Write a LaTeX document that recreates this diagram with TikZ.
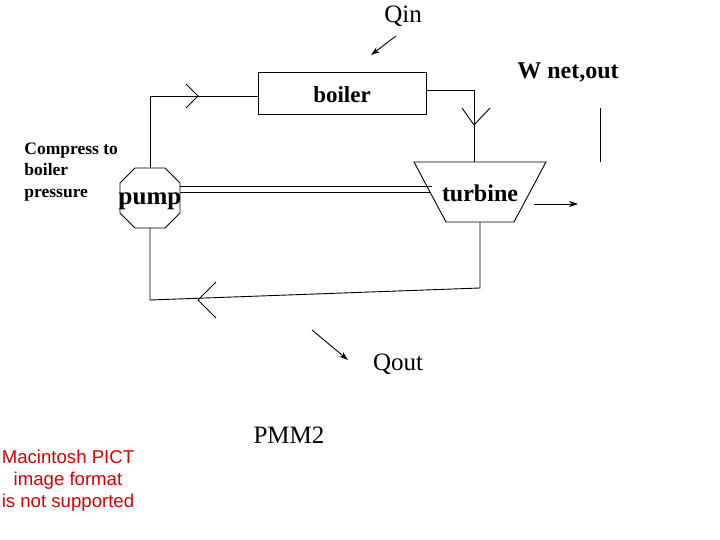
\documentclass[tikz,border=0pt]{standalone}
\usepackage{fontspec}
\setmainfont{Liberation Serif}
\newfontfamily\sans{Liberation Sans}
\usetikzlibrary{arrows.meta}
\begin{document}
\begin{tikzpicture}[x=1pt,y=-1pt,line width=0.9pt,
  lbl/.style={inner sep=0pt,font=\fontsize{25}{28}\selectfont},
  blbl/.style={inner sep=0pt,font=\fontsize{#1}{28}\selectfont\bfseries},
  arr/.style={-{Stealth[length=9pt,width=6pt]}}]
\useasboundingbox (0,0) rectangle (720,540);
\node[draw,minimum width=168pt,minimum height=42pt,inner sep=0pt] (boiler) at (342,93) {};
\node[blbl=23] (bl) at (342,95) {boiler};
\draw (135,168) -- (165,168) -- (180,183) -- (180,213) -- (165,228) -- (135,228) -- (120,213) -- (120,183) -- cycle;
\node[blbl=25] (pl) at (150,201) {pump};
\draw (414,162) -- (546,162) -- (514,222) -- (446,222) -- cycle;
\node[blbl=24] (tl) at (480,193) {turbine};
\coordinate (ptop) at (150,168);
\coordinate (pbot) at (150,228);
\coordinate (tt) at (474,162);
\coordinate (tb) at (480,222);
\draw (ptop) -- (150,96) -- (boiler.west |- 0,96);
\draw (186,84) -- (198,96) -- (186,108);
\draw (boiler.east |- 0,90) -- (474,90) -- (tt);
\draw (462,108) -- (474,125) -- (490,108);
\draw (tb) -- (480,288) -- (150,300) -- (pbot);
\draw (216,282) -- (198,300) -- (216,318);
\draw (180,186) -- (432,186) (180,192) -- (430,192);
\draw (600,108) -- (600,162);
\coordinate (wa) at (534,204); \coordinate (wb) at (578,204);
\draw[arr] (wa) -- (wb);
\coordinate (qa) at (396,36); \coordinate (qb) at (371,55);
\draw[arr] (qa) -- (qb);
\coordinate (oa) at (312,330); \coordinate (ob) at (348,360);
\draw[arr] (oa) -- (ob);
\node[lbl] (qin) at (403,16) {Qin};
\node[blbl=24] (w) at (568,73) {W net,out};
\node[lbl] (qout) at (398,364) {Qout};
\node[lbl] (pmm) at (289,435) {PMM2};
\node[anchor=north west,inner sep=0pt,align=left,font=\fontsize{17.5}{21.5}\selectfont\bfseries] (cp) at (24,142) {Compress to\\boiler\\pressure};
\node[align=center,inner sep=0pt,text=red!85!black,font=\sans\fontsize{18.6}{22}\selectfont] (pict) at (68,481) {Macintosh PICT\\image format\\is not supported};
\end{tikzpicture}
\end{document}
